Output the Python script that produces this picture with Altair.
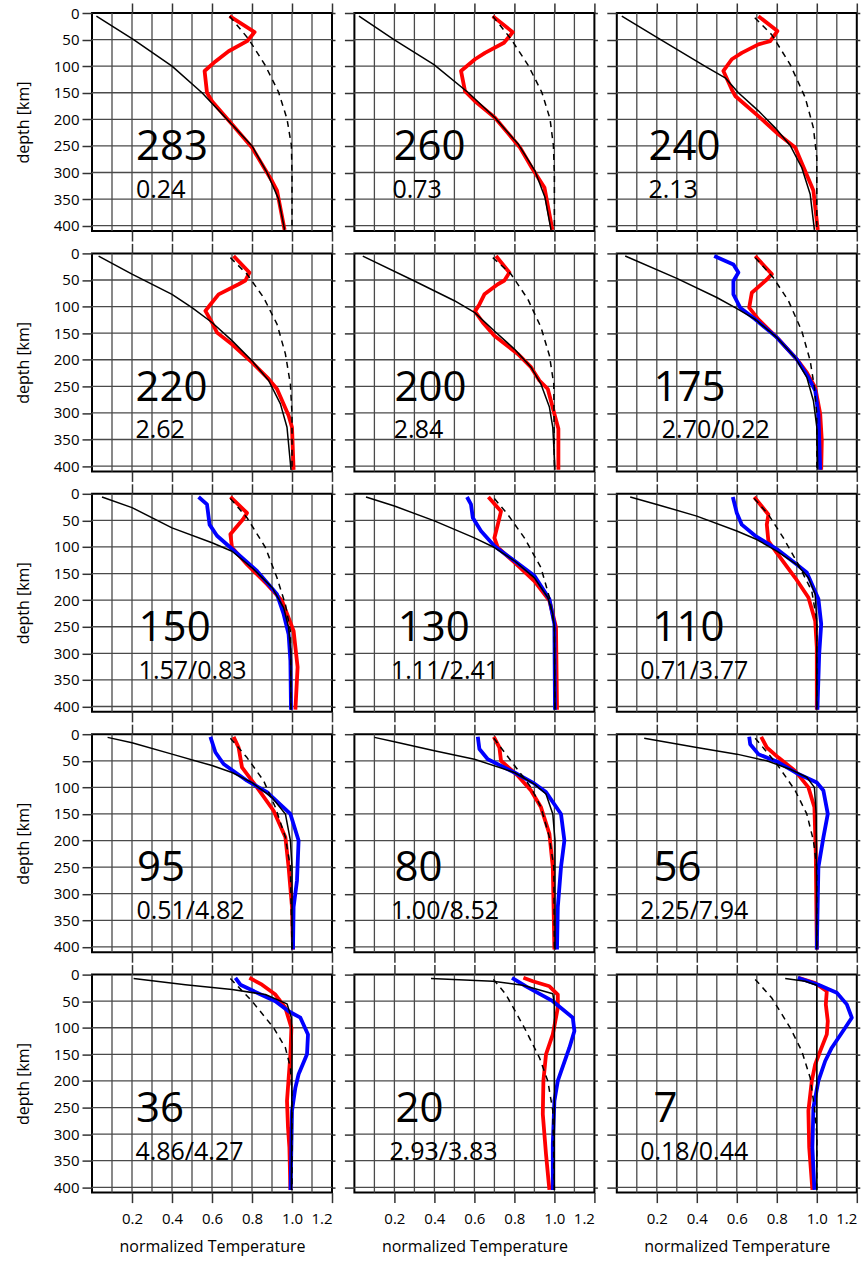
import altair as alt
import pandas as pd

FONT = "Open Sans"

LABELS = ["283", "260", "240", "220", "200", "175", "150", "130", "110",
          "95", "80", "56", "36", "20", "7"]
SUBLABELS = ["0.24", "0.73", "2.13", "2.62", "2.84", "2.70/0.22", "1.57/0.83",
             "1.11/2.41", "0.71/3.77", "0.51/4.82", "1.00/8.52", "2.25/7.94",
             "4.86/4.27", "2.93/3.83", "0.18/0.44"]
LABEL_X = [0.22, 0.195, 0.158, 0.217, 0.2, 0.183, 0.233, 0.217, 0.178,
           0.225, 0.2, 0.183, 0.22, 0.205, 0.183]
SUB_X = [0.22, 0.19, 0.158, 0.217, 0.197, 0.225, 0.233, 0.183, 0.117,
         0.222, 0.183, 0.117, 0.217, 0.175, 0.117]
LABEL_DEPTH = 277
SUB_DEPTH = 348

X_TICKS = [0.2, 0.4, 0.6, 0.8, 1.0, 1.2]
Y_TICKS = [0, 50, 100, 150, 200, 250, 300, 350, 400]
GRID_T = [0.1, 0.2, 0.3, 0.4, 0.5, 0.6, 0.7, 0.8, 0.9, 1.0, 1.1]
GRID_D = [50, 100, 150, 200, 250, 300, 350, 400]

# (normalized temperature, depth km)
BLACK = {
    "283": [(0.022, 6), (0.208, 50), (0.4, 100), (0.55, 150), (0.675, 200), (0.8, 250), (0.875, 300), (0.933, 350), (0.963, 408)],
    "260": [(0.023, 6), (0.198, 50), (0.398, 97), (0.57, 150), (0.703, 197), (0.82, 247), (0.903, 297), (0.953, 347), (0.983, 408)],
    "240": [(0.025, 6), (0.215, 49), (0.44, 100), (0.542, 122), (0.608, 150), (0.708, 184), (0.792, 216), (0.867, 249), (0.925, 291), (0.967, 341), (0.988, 408)],
    "220": [(0.033, 5), (0.2, 39), (0.4, 77), (0.5, 102), (0.6, 130), (0.7, 164), (0.8, 202), (0.883, 239), (0.942, 283), (0.975, 327), (0.995, 407)],
    "200": [(0.042, 5), (0.3, 52), (0.5, 89), (0.6, 111), (0.7, 146), (0.8, 180), (0.883, 214), (0.933, 246), (0.975, 289), (0.992, 327), (1.003, 407)],
    "175": [(0.042, 5), (0.3, 47), (0.5, 83), (0.592, 102), (0.692, 124), (0.8, 158), (0.892, 196), (0.95, 233), (0.983, 277), (1.0, 327), (1.005, 407)],
    "150": [(0.05, 6), (0.2, 26), (0.4, 64), (0.6, 92), (0.7, 108), (0.8, 139), (0.9, 176), (0.958, 214), (0.983, 251), (0.995, 301), (0.995, 406)],
    "130": [(0.058, 6), (0.2, 23), (0.4, 51), (0.6, 83), (0.7, 101), (0.8, 126), (0.9, 158), (0.967, 195), (0.992, 226), (1.0, 251), (1.003, 406)],
    "110": [(0.067, 6), (0.2, 20), (0.4, 42), (0.6, 70), (0.7, 86), (0.8, 108), (0.9, 133), (0.958, 158), (0.992, 189), (1.0, 239), (1.0, 406)],
    "95": [(0.078, 6), (0.2, 16), (0.4, 37.5), (0.6, 59), (0.7, 72), (0.8, 91), (0.9, 119), (0.967, 150), (0.992, 200), (1.0, 250), (1.0, 405)],
    "80": [(0.1, 6), (0.2, 14), (0.4, 31), (0.6, 47), (0.8, 72), (0.9, 94), (0.958, 112.5), (0.992, 150), (1.003, 200), (1.003, 405)],
    "56": [(0.137, 7.5), (0.4, 25), (0.6, 37.5), (0.75, 50), (0.867, 66), (0.95, 81), (0.988, 100), (0.997, 150), (1.0, 405)],
    "36": [(0.208, 7.5), (0.467, 19), (0.7, 28), (0.867, 37.5), (0.975, 55), (0.997, 81), (1.0, 131), (0.997, 405)],
    "20": [(0.383, 7.5), (0.692, 12.5), (0.842, 20), (0.992, 36), (1.0, 56), (1.0, 405)],
    "7": [(0.842, 7.5), (0.942, 12.5), (1.0, 20), (1.0, 405)],
}

DASHED = {
    "283": [(0.688, 6), (0.783, 49), (0.867, 99), (0.933, 149), (0.975, 199), (0.997, 249), (1.0, 303), (1.0, 408)],
    "260": [(0.692, 6), (0.783, 49), (0.87, 99), (0.937, 149), (0.978, 199), (0.995, 249), (1.0, 303), (1.0, 408)],
    "240": [(0.69, 9), (0.775, 41), (0.867, 97), (0.942, 159), (0.983, 216), (1.0, 272), (1.0, 408)],
    "220": [(0.692, 8), (0.775, 39), (0.858, 83), (0.925, 133), (0.967, 189), (0.992, 246), (1.0, 302), (1.0, 407)],
    "200": [(0.692, 8), (0.783, 39), (0.867, 86), (0.933, 139), (0.975, 192), (0.997, 246), (1.0, 407)],
    "175": [(0.692, 8), (0.783, 46), (0.858, 89), (0.925, 146), (0.967, 202), (0.988, 252), (1.0, 302), (1.0, 407)],
    "150": [(0.692, 9), (0.775, 45), (0.867, 101), (0.925, 158), (0.967, 208), (0.992, 258), (0.995, 406)],
    "130": [(0.7, 9), (0.767, 39), (0.85, 83), (0.933, 139), (0.975, 195), (1.0, 251), (1.003, 406)],
    "110": [(0.687, 9), (0.758, 39), (0.833, 83), (0.908, 133), (0.975, 183), (1.0, 239), (1.0, 406)],
    "95": [(0.692, 7.5), (0.775, 44), (0.858, 87.5), (0.917, 137.5), (0.967, 194), (0.992, 250), (1.0, 405)],
    "80": [(0.697, 7.5), (0.808, 62.5), (0.883, 100), (0.933, 137.5), (0.975, 194), (0.997, 250), (1.0, 405)],
    "56": [(0.692, 7.5), (0.8, 56), (0.892, 106), (0.95, 150), (0.983, 200), (1.0, 250), (1.0, 405)],
    "36": [(0.692, 7.5), (0.8, 50), (0.908, 100), (0.967, 137.5), (0.992, 175), (1.0, 225), (1.0, 405)],
    "20": [(0.695, 9), (0.758, 37.5), (0.85, 100), (0.925, 156), (0.967, 200), (0.992, 256), (1.0, 405)],
    "7": [(0.692, 9), (0.775, 44), (0.867, 100), (0.925, 144), (0.967, 194), (0.988, 250), (1.0, 300), (1.0, 405)],
}

RED = {
    "283": [(0.688, 6), (0.813, 36), (0.775, 53), (0.683, 72), (0.617, 91), (0.563, 109), (0.575, 150), (0.6, 166), (0.7, 209), (0.8, 253), (0.9, 316), (0.925, 334), (0.963, 408)],
    "260": [(0.692, 6), (0.792, 36), (0.748, 56), (0.653, 75), (0.603, 87), (0.533, 109), (0.553, 147), (0.603, 166), (0.703, 197), (0.828, 253), (0.887, 291), (0.95, 328), (0.99, 408)],
    "240": [(0.708, 6), (0.803, 34), (0.767, 53), (0.708, 59), (0.625, 75), (0.575, 87), (0.533, 109), (0.575, 144), (0.592, 156), (0.708, 194), (0.808, 228), (0.892, 253), (0.983, 334), (1.005, 408)],
    "220": [(0.708, 5), (0.787, 36), (0.767, 51), (0.733, 58), (0.633, 77), (0.592, 96), (0.567, 108), (0.6, 130), (0.625, 149), (0.7, 171), (0.8, 205), (0.883, 236), (0.925, 255), (0.983, 305), (1.0, 327), (1.008, 407)],
    "200": [(0.708, 5), (0.775, 36), (0.75, 51), (0.717, 58), (0.65, 77), (0.625, 96), (0.603, 109), (0.642, 130), (0.7, 155), (0.817, 189), (0.883, 214), (0.925, 239), (0.967, 255), (1.0, 302), (1.02, 330), (1.02, 407)],
    "175": [(0.692, 5), (0.775, 39), (0.75, 49), (0.675, 74), (0.662, 102), (0.708, 124), (0.808, 161), (0.9, 199), (0.95, 224), (0.992, 252), (1.017, 302), (1.025, 352), (1.022, 407)],
    "150": [(0.692, 6), (0.775, 36), (0.755, 48), (0.692, 76), (0.7, 101), (0.775, 133), (0.875, 170), (0.95, 201), (1.008, 258), (1.028, 326), (1.017, 406)],
    "130": [(0.67, 6), (0.733, 33), (0.717, 58), (0.7, 83), (0.717, 101), (0.8, 129), (0.9, 164), (0.975, 201), (1.008, 251), (1.013, 406)],
    "110": [(0.687, 6), (0.758, 39), (0.75, 58), (0.758, 89), (0.8, 111), (0.892, 158), (0.958, 195), (0.992, 239), (1.0, 289), (1.0, 406)],
    "95": [(0.708, 5), (0.733, 25), (0.75, 62.5), (0.825, 100), (0.908, 144), (0.967, 194), (0.983, 250), (1.0, 325), (1.005, 405)],
    "80": [(0.697, 5), (0.725, 25), (0.733, 50), (0.817, 78), (0.883, 106), (0.933, 137.5), (0.975, 187.5), (0.992, 250), (1.0, 405)],
    "56": [(0.722, 5), (0.75, 25), (0.808, 44), (0.892, 69), (0.958, 100), (0.988, 137.5), (0.995, 225), (1.0, 405)],
    "36": [(0.787, 6), (0.85, 19), (0.917, 37.5), (0.967, 62.5), (0.997, 100), (0.992, 150), (0.975, 237.5), (0.98, 287.5), (0.987, 325), (0.992, 405)],
    "20": [(0.845, 6), (0.892, 12.5), (0.975, 22), (1.017, 37.5), (1.017, 62.5), (0.992, 112.5), (0.958, 150), (0.945, 200), (0.942, 262.5), (0.958, 337.5), (0.975, 405)],
    "7": [(0.908, 6), (0.992, 16), (1.05, 31), (1.045, 56), (1.055, 87.5), (1.05, 112.5), (1.017, 144), (0.992, 169), (0.975, 200), (0.958, 256), (0.962, 325), (0.978, 405)],
}

BLUE = {
    "175": [(0.487, 5), (0.583, 21), (0.608, 36), (0.583, 52), (0.583, 77), (0.617, 102), (0.692, 124), (0.8, 158), (0.9, 199), (0.958, 233), (0.992, 258), (1.008, 302), (1.017, 407)],
    "150": [(0.533, 6), (0.575, 20), (0.588, 58), (0.625, 79), (0.692, 101), (0.825, 145), (0.925, 189), (0.958, 226), (0.983, 264), (0.992, 314), (0.995, 406)],
    "130": [(0.563, 6), (0.583, 20), (0.592, 45), (0.633, 70), (0.7, 98), (0.8, 126), (0.9, 154), (0.975, 198), (1.0, 245), (1.003, 406)],
    "110": [(0.58, 6), (0.6, 36), (0.625, 58), (0.692, 79), (0.8, 104), (0.9, 133), (0.95, 148), (1.008, 198), (1.022, 245), (1.012, 301), (1.003, 406)],
    "95": [(0.592, 5), (0.617, 34), (0.658, 56), (0.775, 87.5), (0.875, 109), (0.992, 150), (1.033, 200), (1.025, 275), (1.008, 325), (1.005, 405)],
    "80": [(0.617, 5), (0.625, 28), (0.667, 47), (0.8, 72), (0.892, 91), (0.958, 109), (1.033, 150), (1.05, 200), (1.033, 250), (1.017, 325), (1.013, 405)],
    "56": [(0.662, 5), (0.667, 19), (0.708, 37.5), (0.808, 53), (0.908, 75), (1.0, 91), (1.033, 106), (1.055, 150), (1.033, 194), (1.008, 250), (1.0, 405)],
    "36": [(0.717, 6), (0.742, 19), (0.825, 34), (0.917, 50), (0.983, 69), (1.042, 81), (1.08, 112.5), (1.075, 150), (1.033, 187.5), (1.017, 212.5), (1.0, 256), (0.993, 405)],
    "20": [(0.788, 6), (0.858, 22), (0.992, 50), (1.092, 81), (1.1, 106), (1.075, 137.5), (1.017, 200), (1.0, 237.5), (0.992, 319), (0.992, 405)],
    "7": [(0.905, 6), (1.008, 19), (1.1, 34), (1.15, 56), (1.175, 81), (1.142, 100), (1.075, 137.5), (1.042, 162.5), (1.008, 200), (0.983, 250), (0.978, 325), (0.988, 405)],
}

PANEL_W = 240
PANEL_H = 218
GRID_COLOR = "#4a4a4a"

X_SCALE = alt.Scale(domain=[0, 1.2], nice=False, zero=False)
Y_SCALE = alt.Scale(domain=[0, 410], reverse=True, nice=False, zero=False)


def series_df(src, name):
    pts = src.get(name, [])
    return pd.DataFrame({"i": list(range(len(pts))),
                         "t": [p[0] for p in pts],
                         "depth": [p[1] for p in pts]})


def make_panel(k):
    name = LABELS[k]
    r, c = divmod(k, 3)

    bottom_axis = alt.Axis(
        orient="bottom", values=X_TICKS, format=".1f", labels=(r == 4),
        ticks=True, tickSize=10, grid=False, domain=False, labelFlush=True,
        labelPadding=9, titlePadding=12,
        title=("normalized Temperature" if r == 4 else None))
    left_axis = alt.Axis(
        orient="left", values=Y_TICKS, labels=(c == 0), ticks=True,
        tickSize=10, grid=False, domain=False, labelPadding=3,
        titlePadding=22, title=("depth [km]" if c == 0 else None))
    top_axis = alt.Axis(orient="top", values=X_TICKS, labels=False,
                        ticks=True, tickSize=10, grid=False, domain=False,
                        title=None)
    right_axis = alt.Axis(orient="right", values=Y_TICKS, labels=False,
                          ticks=True, tickSize=3, grid=False, domain=False,
                          title=None)

    gx = alt.Chart(pd.DataFrame({"t": GRID_T})).mark_rule(
        color=GRID_COLOR, strokeWidth=1.3).encode(
        x=alt.X("t:Q", scale=X_SCALE, axis=None))
    gy = alt.Chart(pd.DataFrame({"depth": GRID_D})).mark_rule(
        color=GRID_COLOR, strokeWidth=1.3).encode(
        y=alt.Y("depth:Q", scale=Y_SCALE, axis=None))

    def line(src, color, width, xaxis=None, yaxis=None, dash=None):
        kw = dict(color=color, strokeWidth=width, strokeJoin="round")
        if dash is not None:
            kw["strokeDash"] = dash
        return alt.Chart(series_df(src, name)).mark_line(**kw).encode(
            x=alt.X("t:Q", scale=X_SCALE, axis=xaxis),
            y=alt.Y("depth:Q", scale=Y_SCALE, axis=yaxis),
            order=alt.Order("i:Q"))

    layers = [gx, gy,
              line(RED, "#ff0000", 3.8, bottom_axis, left_axis)]
    if name in BLUE:
        layers.append(line(BLUE, "#0000ff", 3.8))
    layers.append(line(BLACK, "black", 1.5, top_axis, right_axis))
    layers.append(line(DASHED, "black", 1.5, dash=[6, 5]))

    big = alt.Chart(pd.DataFrame({"t": [LABEL_X[k]], "depth": [LABEL_DEPTH],
                                  "s": [name]})).mark_text(
        align="left", baseline="alphabetic", fontSize=42, font=FONT,
        color="black").encode(
        x=alt.X("t:Q", scale=X_SCALE, axis=None),
        y=alt.Y("depth:Q", scale=Y_SCALE, axis=None),
        text="s:N")
    small = alt.Chart(pd.DataFrame({"t": [SUB_X[k]], "depth": [SUB_DEPTH],
                                    "s": [SUBLABELS[k]]})).mark_text(
        align="left", baseline="alphabetic", fontSize=25, font=FONT,
        color="black").encode(
        x=alt.X("t:Q", scale=X_SCALE, axis=None),
        y=alt.Y("depth:Q", scale=Y_SCALE, axis=None),
        text="s:N")
    layers += [big, small]

    return alt.layer(*layers).resolve_axis(
        x="independent", y="independent").properties(
        width=PANEL_W, height=PANEL_H)


panels = [make_panel(k) for k in range(15)]

chart = alt.concat(*panels, columns=3, spacing=22.4, bounds="flush").properties(
    padding={"left": 14, "top": 1, "right": 0, "bottom": 2},
    background="white",
).configure_view(
    stroke="black", strokeWidth=2
).configure_axis(
    labelFont=FONT, titleFont=FONT, labelFontSize=15, titleFontSize=16,
    titleFontWeight="normal", labelColor="black", titleColor="black",
    tickColor="#333333", tickWidth=1.5
)

chart.save("out.html", embed_options={"renderer": "svg", "actions": False})
